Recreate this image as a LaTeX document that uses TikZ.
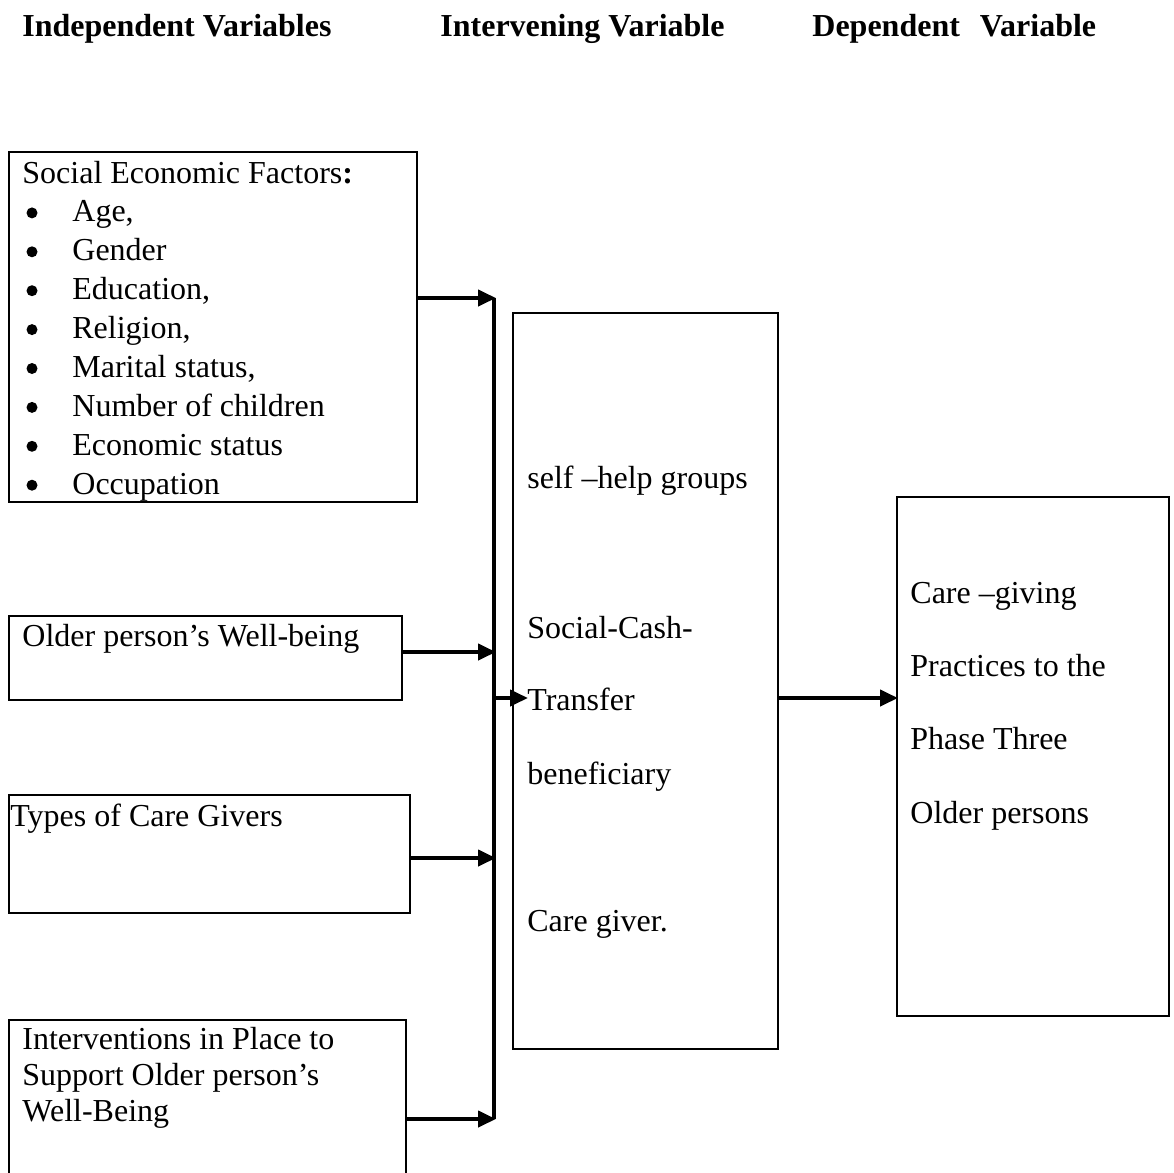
\documentclass[tikz,border=0pt]{standalone}
\usepackage{fontspec}
\setmainfont{Liberation Serif}
\usetikzlibrary{arrows.meta}
\tikzset{
  varbox/.style={draw, line width=0.8pt, anchor=north west, inner sep=0pt},
  txt/.style={anchor=base west, inner sep=0pt},
  head/.style={txt, font=\fontsize{16}{19.5}\selectfont\bfseries},
  dot/.style={circle, fill, inner sep=0pt, minimum size=5.5pt},
  feed/.style={line width=2pt, -{Triangle[length=9pt,width=8pt]}, shorten >=-1pt},
  bus/.style={line width=2.4pt},
}
\begin{document}
\begin{tikzpicture}[x=0.5pt,y=-0.5pt,font=\fontsize{16}{19.5}\selectfont]
    \useasboundingbox (0,0) rectangle (1173,1173);

    % headings
    \node[head] (hind) at (22,36) {Independent Variables};
    \node[head] (hint) at (440,36) {Intervening Variable};
    \node[head] (hdep) at (812,36) {Dependent\hspace{10pt}Variable};

    % boxes
    \node[varbox, minimum width=204pt, minimum height=175pt] (ses) at (8,151) {};
    \node[varbox, minimum width=196.5pt, minimum height=42pt] (wellbeing) at (8,615) {};
    \node[varbox, minimum width=200.5pt, minimum height=59pt] (givers) at (8,794) {};
    \node[varbox, minimum width=198.5pt, minimum height=90pt] (interv) at (8,1019) {};
    \node[varbox, minimum width=132.5pt, minimum height=368pt] (middle) at (512,312) {};
    \node[varbox, minimum width=136pt, minimum height=259.5pt] (care) at (896,496) {};

    % texts
    \node[txt] (sestitle) at (22,183) {Social Economic Factors\textbf{:}};
    \foreach \lbl [count=\i] in {{Age,}, Gender, {Education,}, {Religion,}, {Marital status,}, Number of children, Economic status, Occupation} {
        \node[dot] (bul\i) at (32,{174+38.9*\i}) {};
        \node[txt] (item\i) at (72,{183+38.9*\i}) {\lbl};
    }
    \node[txt] (wbtext) at (22,646) {Older person’s Well-being};
    \node[txt] (gvtext) at (10,826) {Types of Care Givers};
    \node[txt] (iv1) at (22,1049) {Interventions in Place to};
    \node[txt] (iv2) at (22,1085) {Support Older person’s};
    \node[txt] (iv3) at (22,1121) {Well-Being};

    \node[txt] (md1) at (527,488) {self –help groups};
    \node[txt] (md2) at (527,638) {Social-Cash-};
    \node[txt] (md3) at (527,710) {Transfer};
    \node[txt] (md4) at (527,784) {beneficiary};
    \node[txt] (md5) at (527,931) {Care giver.};

    \node[txt] (cg1) at (910,603) {Care –giving};
    \node[txt] (cg2) at (910,676) {Practices to the};
    \node[txt] (cg3) at (910,749) {Phase Three};
    \node[txt] (cg4) at (910,823) {Older persons};

    % connectors
    \coordinate (b1) at (494,298);
    \coordinate (b2) at (494,652);
    \coordinate (b0) at (494,698);
    \coordinate (b3) at (494,858);
    \coordinate (b4) at (494,1119);
    \coordinate (t0) at (526,698);
    \draw[bus] (b1) -- (b4);
    \draw[feed] (ses.east |- b1) -- (b1);
    \draw[feed] (wellbeing.east |- b2) -- (b2);
    \draw[feed] (givers.east |- b3) -- (b3);
    \draw[feed] (interv.east |- b4) -- (b4);
    \draw[feed] (b0) -- (t0);
    \draw[feed] (middle.east |- b0) -- (care.west |- b0);
\end{tikzpicture}
\end{document}
